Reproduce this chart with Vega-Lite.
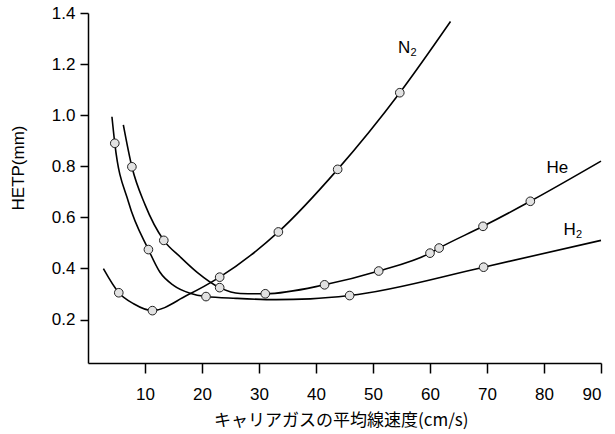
{
  "$schema": "https://vega.github.io/schema/vega-lite/v6.json",
  "width": 513,
  "height": 350,
  "autosize": {"type": "none"},
  "padding": {"left": 88, "top": 13, "right": 14, "bottom": 71},
  "background": "white",
  "config": {"view": {"stroke": null}, "font": "Arial"},
  "datasets": {
    "curves": [
      {"gas": "N2", "v": 2.7, "h": 0.399, "m": 0},
      {"gas": "N2", "v": 5.4, "h": 0.305, "m": 1},
      {"gas": "N2", "v": 8.0, "h": 0.262, "m": 0},
      {"gas": "N2", "v": 11.3, "h": 0.235, "m": 1},
      {"gas": "N2", "v": 17.3, "h": 0.294, "m": 0},
      {"gas": "N2", "v": 23.1, "h": 0.366, "m": 1},
      {"gas": "N2", "v": 33.4, "h": 0.543, "m": 1},
      {"gas": "N2", "v": 43.8, "h": 0.788, "m": 1},
      {"gas": "N2", "v": 54.7, "h": 1.088, "m": 1},
      {"gas": "N2", "v": 63.6, "h": 1.367, "m": 0},
      {"gas": "He", "v": 6.2, "h": 0.962, "m": 0},
      {"gas": "He", "v": 7.7, "h": 0.798, "m": 1},
      {"gas": "He", "v": 10.0, "h": 0.65, "m": 0},
      {"gas": "He", "v": 13.3, "h": 0.51, "m": 1},
      {"gas": "He", "v": 16.2, "h": 0.445, "m": 0},
      {"gas": "He", "v": 19.1, "h": 0.386, "m": 0},
      {"gas": "He", "v": 23.1, "h": 0.325, "m": 1},
      {"gas": "He", "v": 26.7, "h": 0.302, "m": 0},
      {"gas": "He", "v": 31.1, "h": 0.301, "m": 1},
      {"gas": "He", "v": 41.5, "h": 0.336, "m": 1},
      {"gas": "He", "v": 51.0, "h": 0.39, "m": 1},
      {"gas": "He", "v": 60.0, "h": 0.46, "m": 1},
      {"gas": "He", "v": 61.6, "h": 0.48, "m": 1},
      {"gas": "He", "v": 69.3, "h": 0.565, "m": 1},
      {"gas": "He", "v": 77.6, "h": 0.663, "m": 1},
      {"gas": "He", "v": 90.0, "h": 0.82, "m": 0},
      {"gas": "H2", "v": 4.2, "h": 0.994, "m": 0},
      {"gas": "H2", "v": 4.7, "h": 0.89, "m": 1},
      {"gas": "H2", "v": 7.1, "h": 0.66, "m": 0},
      {"gas": "H2", "v": 10.6, "h": 0.474, "m": 1},
      {"gas": "H2", "v": 12.6, "h": 0.386, "m": 0},
      {"gas": "H2", "v": 15.0, "h": 0.334, "m": 0},
      {"gas": "H2", "v": 17.9, "h": 0.303, "m": 0},
      {"gas": "H2", "v": 20.7, "h": 0.29, "m": 1},
      {"gas": "H2", "v": 26.0, "h": 0.283, "m": 0},
      {"gas": "H2", "v": 33.0, "h": 0.278, "m": 0},
      {"gas": "H2", "v": 39.0, "h": 0.281, "m": 0},
      {"gas": "H2", "v": 45.9, "h": 0.294, "m": 1},
      {"gas": "H2", "v": 69.4, "h": 0.405, "m": 1},
      {"gas": "H2", "v": 90.0, "h": 0.51, "m": 0}
    ],
    "labels": [
      {"lab": "N", "sub": "2", "v": 54.4, "h": 1.243},
      {"lab": "He", "sub": "", "v": 80.45, "h": 0.772},
      {"lab": "H", "sub": "2", "v": 83.4, "h": 0.53}
    ]
  },
  "layer": [
    {
      "data": {"name": "curves"},
      "mark": {"type": "line", "interpolate": "monotone", "color": "black", "strokeWidth": 1.6},
      "encoding": {
        "x": {
          "field": "v", "type": "quantitative",
          "scale": {"domain": [0, 90], "nice": false, "zero": false},
          "axis": {
            "title": "キャリアガスの平均線速度(cm/s)",
            "values": [10, 20, 30, 40, 50, 60, 70, 80, 90],
            "grid": false,
            "domainColor": "black", "domainWidth": 1.5,
            "tickColor": "black", "tickWidth": 1.5, "tickSize": 10,
            "labelPadding": 13, "labelFont": "Arial", "labelFontSize": 17, "labelColor": "black",
            "titleFont": "Noto Sans CJK JP", "titleFontSize": 17, "titleFontWeight": "normal", "titleColor": "black",
            "titleX": 252.8, "titleY": 57, "titleBaseline": "middle", "titleAlign": "center"
          }
        },
        "y": {
          "field": "h", "type": "quantitative",
          "scale": {"domain": [0.03, 1.4], "nice": false, "zero": false},
          "axis": {
            "title": "HETP(mm)",
            "values": [0.2, 0.4, 0.6, 0.8, 1.0, 1.2, 1.4],
            "format": ".1f",
            "grid": false,
            "domainColor": "black", "domainWidth": 1.5,
            "tickColor": "black", "tickWidth": 1.5, "tickSize": 8,
            "labelPadding": 5, "labelFont": "Arial", "labelFontSize": 17, "labelColor": "black",
            "titleFont": "Arial", "titleFontSize": 17, "titleFontWeight": "normal", "titleColor": "black",
            "titleX": -70, "titleY": 154.5, "titleBaseline": "middle", "titleAlign": "center", "titleAngle": -90
          }
        },
        "detail": {"field": "gas"}
      }
    },
    {
      "data": {"name": "curves"},
      "transform": [{"filter": "datum.m == 1"}],
      "mark": {"type": "point", "shape": "circle", "filled": true, "fill": "#e2e2e2", "stroke": "#222222", "strokeWidth": 1, "size": 75, "opacity": 1},
      "encoding": {
        "x": {"field": "v", "type": "quantitative"},
        "y": {"field": "h", "type": "quantitative"}
      }
    },
    {
      "data": {"name": "labels"},
      "mark": {"type": "text", "align": "left", "baseline": "alphabetic", "fontSize": 17, "font": "Arial", "color": "black"},
      "encoding": {
        "x": {"field": "v", "type": "quantitative"},
        "y": {"field": "h", "type": "quantitative"},
        "text": {"field": "lab"}
      }
    },
    {
      "data": {"name": "labels"},
      "transform": [{"filter": "datum.sub != ''"}],
      "mark": {"type": "text", "align": "left", "baseline": "alphabetic", "fontSize": 11, "font": "Arial", "color": "black", "dx": 12.5, "dy": 3},
      "encoding": {
        "x": {"field": "v", "type": "quantitative"},
        "y": {"field": "h", "type": "quantitative"},
        "text": {"field": "sub"}
      }
    }
  ]
}
